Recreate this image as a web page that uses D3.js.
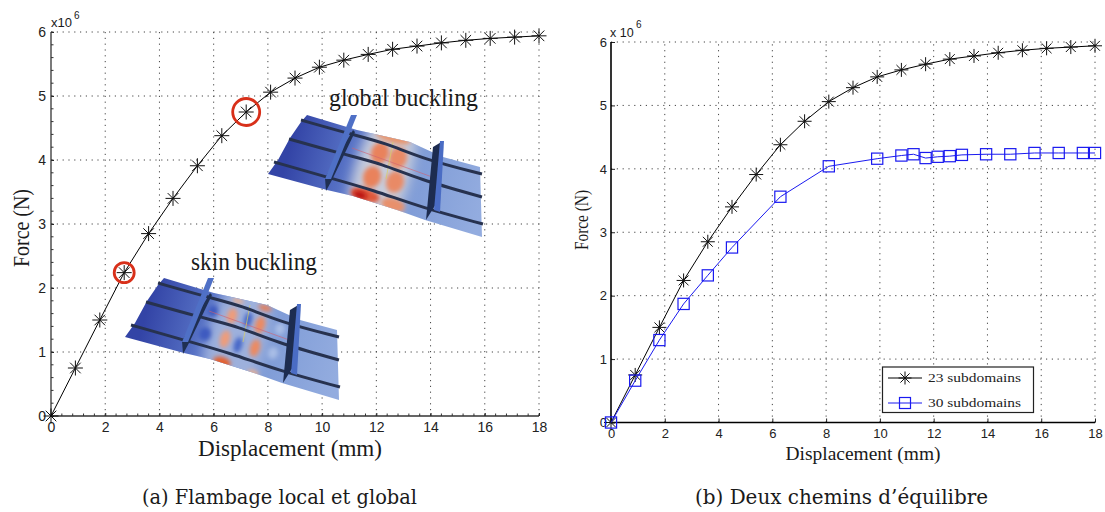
<!DOCTYPE html>
<html><head><meta charset="utf-8">
<script src="https://cdn.jsdelivr.net/npm/d3@7"></script>
<style>body{margin:0;background:#fff}svg{display:block}</style></head>
<body><svg id="c" width="1105" height="512"></svg>
<script>
const xTicks=[0,2,4,6,8,10,12,14,16,18];
const yTicks=[0,1,2,3,4,5,6];
const disp23=[0,0.9,1.8,2.7,3.6,4.5,5.4,6.3,7.2,8.1,9,9.9,10.8,11.7,12.6,13.5,14.4,15.3,16.2,17.1,18];
const force23=[0,0.75,1.5,2.24,2.85,3.4,3.91,4.38,4.75,5.06,5.28,5.45,5.56,5.65,5.73,5.78,5.83,5.87,5.9,5.92,5.94];
const disp30=[0,0.9,1.8,2.7,3.6,4.5,6.3,8.1,9.9,10.8,11.25,11.7,12.15,12.6,13.05,13.95,14.85,15.75,16.65,17.55,18];
const force30=[0,0.66,1.3,1.87,2.32,2.76,3.56,4.04,4.16,4.21,4.23,4.17,4.19,4.2,4.22,4.23,4.23,4.25,4.25,4.25,4.25];
const highlighted=[[2.7,2.24,10],[7.2,4.75,13.5]];
const legendLabels=["23 subdomains","30 subdomains"];
const seriesColors=["#000","#1a1af0"];

const SANS="'Liberation Sans',Arial,sans-serif", SERIF="'Liberation Serif',serif", CAP="'DejaVu Serif',serif";
const svg=d3.select("#c"), defs=svg.append("defs");
const line=(x,y)=>d3.line().x(d=>x(d[0])).y(d=>y(d[1]));

function star(g,cx,cy,r,col,sw){
  const p=g.append("g").attr("stroke",col).attr("stroke-width",sw).attr("transform",`translate(${cx},${cy})`);
  [0,45,90,135].forEach(a=>{const t=a*Math.PI/180;
    p.append("line").attr("x1",-r*Math.cos(t)).attr("y1",-r*Math.sin(t)).attr("x2",r*Math.cos(t)).attr("y2",r*Math.sin(t));});
}
function square(g,cx,cy,r,col){
  g.append("rect").attr("x",cx-r).attr("y",cy-r).attr("width",2*r).attr("height",2*r)
   .attr("fill","none").attr("stroke",col).attr("stroke-width",1.2);
}
function frame(o){
  const g=svg.append("g");
  const x=d3.scaleLinear().domain([0,18]).range(o.xr), y=d3.scaleLinear().domain([0,6]).range(o.yr);
  const dots="1.2 4.6";
  xTicks.slice(1).forEach(t=>g.append("line").attr("x1",x(t)).attr("x2",x(t)).attr("y1",y(0)).attr("y2",y(6))
     .attr("stroke","#444").attr("stroke-width",1).attr("stroke-dasharray",dots));
  yTicks.slice(1).forEach(t=>g.append("line").attr("y1",y(t)).attr("y2",y(t)).attr("x1",x(0)).attr("x2",x(18))
     .attr("stroke","#444").attr("stroke-width",1).attr("stroke-dasharray",dots));
  return {g,x,y};
}
function axes(f,o){
  const {g,x,y}=f;
  const ax=g.append("g").attr("transform",`translate(0,${y(0)})`).call(d3.axisBottom(x).tickValues(xTicks).tickSize(-o.tick).tickPadding(o.padX).tickFormat(d3.format("d")));
  const ay=g.append("g").attr("transform",`translate(${x(0)},0)`).call(d3.axisLeft(y).tickValues(yTicks).tickSize(-o.tick).tickPadding(o.padY).tickFormat(d3.format("d")));
  [ax,ay].forEach(a=>{a.selectAll("text").attr("font-family",SANS).attr("font-size",o.fs).attr("fill","#222");
    a.selectAll("line").attr("stroke","#222");
    a.select(".domain").remove();});
  ax.append("line").attr("x1",x(0)).attr("x2",x(18)).attr("stroke",o.minor?"#333":"#000").attr("stroke-width",o.sw);
  ay.append("line").attr("y1",y(0)).attr("y2",y(6)).attr("stroke",o.minor?"#333":"#000").attr("stroke-width",o.sw);
  if(o.minor){
    d3.range(0,18.01,0.4).forEach(t=>ax.append("line").attr("x1",x(t)).attr("x2",x(t)).attr("y1",0).attr("y2",-2.5).attr("stroke","#333"));
    d3.range(0,6.01,0.2).forEach(t=>ay.append("line").attr("y1",y(t)).attr("y2",y(t)).attr("x1",0).attr("x2",2.5).attr("stroke","#333"));
  }
}
/* ---------- illustration: a curved stiffened panel, drawn in its own local frame ---------- */
const topEdge=[[39,-59],[89,-44],[142,-32],[175,-17],[212,-7]];
const botEdge=[[0,0],[59,16],[85,22],[129,36],[157,46],[214,63]];
const leftEdge=[[0,0],[10,-14],[22,-36],[33,-52],[39,-59]];
const stringers=[
 [[33,-54],[82,-40],[118,-31],[155,-15],[214,0]],
 [[21,-35],[74,-20],[115,-10],[150,5],[214,23]],
 [[6,-12],[62,4],[105,16],[155,34],[215,50]]];
const lg=d3.line().curve(d3.curveBasis);
const lp=d3.line();
const panelPath=lp(topEdge.concat([[214,63]],botEdge.slice().reverse().slice(1),leftEdge.slice(1)))+"Z";
const grad=defs.append("linearGradient").attr("id","pbg").attr("gradientUnits","userSpaceOnUse").attr("x1",20).attr("y1",-20).attr("x2",214).attr("y2",30);
[[0,"#3344a6"],[.3,"#5873c6"],[.6,"#7d9ad6"],[1,"#93acdf"]].forEach(s=>grad.append("stop").attr("offset",s[0]).attr("stop-color",s[1]));
defs.append("filter").attr("id","bl").attr("x","-60%").attr("y","-60%").attr("width","220%").attr("height","220%").append("feGaussianBlur").attr("stdDeviation",6);
defs.append("filter").attr("id","bl2").attr("x","-60%").attr("y","-60%").attr("width","220%").attr("height","220%").append("feGaussianBlur").attr("stdDeviation",2.2);
defs.append("clipPath").attr("id","pclip").append("path").attr("d",panelPath);

const globalBand=[[114,0,28,75,"#c6ccdc"]];
const globalBlobs=[[112,-21,9,11,"#e9825c"],[130,-16,9,11,"#e98a66"],[104,3,9,11,"#e9825c"],[127,8,9,11,"#e98a66"],[125,-37,18,6,"#e8966f"],[97,21,15,7,"#e0583a"],[92,21,7,3.5,"#b81010"],[125,31,12,7,"#e8906c"]];
const skinBand=[[112,2,30,70,"#9db0dc"]];
const skinBlobs=[[88,-26,5,6,"#3d5ac0"],[80,-3,6,7,"#3d5ac0"],[123,-17,4,8,"#4466c8"],[113,8,4,8,"#4466c8"],[155,-8,5,6,"#a9bde6"],[148,16,5,6,"#a9bde6"],
 [107,-21,5,8,"#ee9c7a"],[135,-12,5,9,"#ec8a62"],[100,2,5,9,"#ee9c7a"],[130,11,5,9,"#ec8a62"],[113,-36,6,2.5,"#eeb090"],[140,-29,7,3,"#e87c52"],[97,25,9,5,"#e4602f"],[128,36,6,3,"#eeb090"]];

function panel(tx,ty,band,blobs){
  const g=svg.append("g").attr("transform",`translate(${tx},${ty})`);
  g.append("path").attr("d",panelPath).attr("fill","url(#pbg)");
  const c=g.append("g").attr("clip-path","url(#pclip)");
  const ell=(list,f)=>list.forEach(b=>c.append("ellipse").attr("cx",b[0]).attr("cy",b[1]).attr("rx",b[2]).attr("ry",b[3]).attr("fill",b[4]).attr("filter",f).attr("transform",`rotate(16 ${b[0]} ${b[1]})`));
  ell(band,"url(#bl)"); ell(blobs,"url(#bl2)");
  g.append("path").attr("d",lp([[84,-26],[167,4]])).attr("stroke","#d06070").attr("stroke-width",.6).attr("fill","none");
  g.append("path").attr("d",lp([[125,-32],[118,5]])).attr("stroke","#d8d060").attr("stroke-width",.7).attr("fill","none");
  stringers.forEach(s=>g.append("path").attr("d",lg(s)).attr("fill","none").attr("stroke","#27324f").attr("stroke-width",3));
  g.append("path").attr("d",lp([[85,-44],[87,-42],[64,6],[58,17],[57,4]])+"Z").attr("fill","#1f2f52");
  g.append("path").attr("d",lp([[83,-59],[89,-59],[63,5],[57,5]])+"Z").attr("fill","#4f70c6");
  g.append("path").attr("d",lp([[165,-27],[175,-33],[168,30],[158,46]])+"Z").attr("fill","#1d2c50");
  g.append("path").attr("d",lp([[172,-33],[176,-33],[172,38],[166,36]])+"Z").attr("fill","#4a6cc4");
}
panel(268,174,globalBand,globalBlobs);
panel(125,337,skinBand,skinBlobs);

/* ---------- left chart ---------- */
const L=frame({xr:[51,539],yr:[416,32]});
L.g.lower();
axes(L,{tick:3,padX:6,padY:5,fs:14,sw:1.3,minor:true});
const pts23=disp23.map((d,i)=>[d,force23[i]]), pts30=disp30.map((d,i)=>[d,force30[i]]);
L.g.append("path").datum(pts23).attr("d",line(L.x,L.y)).attr("fill","none").attr("stroke","#000").attr("stroke-width",1);
pts23.forEach(d=>star(L.g,L.x(d[0]),L.y(d[1]),7.5,"#111",1));
svg.append("g").attr("class","rings").selectAll("circle").data(highlighted).join("circle")
  .attr("cx",d=>L.x(d[0])).attr("cy",d=>L.y(d[1])).attr("r",d=>d[2]).attr("fill","none").attr("stroke","#d8301a").attr("stroke-width",2.8);

/* ---------- right chart ---------- */
const R=frame({xr:[611,1095],yr:[422.5,42]});
axes(R,{tick:4,padX:6,padY:4,fs:13,sw:1.6,minor:false});
R.g.append("path").datum(pts23).attr("d",line(R.x,R.y)).attr("fill","none").attr("stroke",seriesColors[0]).attr("stroke-width",1);
pts23.forEach(d=>star(R.g,R.x(d[0]),R.y(d[1]),7,"#111",1));
R.g.append("path").datum(pts30).attr("d",line(R.x,R.y)).attr("fill","none").attr("stroke",seriesColors[1]).attr("stroke-width",1);
pts30.forEach(d=>square(R.g,R.x(d[0]),R.y(d[1]),5.6,seriesColors[1]));

/* legend */
const lgd=svg.append("g");
lgd.append("rect").attr("x",882.5).attr("y",367).attr("width",151).attr("height",45.5).attr("fill","#fff").attr("stroke","#222").attr("stroke-width",1.2);
legendLabels.forEach((t,i)=>{
  const yy=378+i*25;
  lgd.append("line").attr("x1",888).attr("x2",922).attr("y1",yy).attr("y2",yy).attr("stroke",seriesColors[i]).attr("stroke-width",1);
  if(i===0)star(lgd,905,yy,6.5,"#111",1);else square(lgd,905,yy,5.5,seriesColors[1]);
  lgd.append("text").attr("x",928).attr("y",yy+4).attr("font-family",SERIF).attr("font-size",13).attr("fill","#222").attr("textLength",93).attr("lengthAdjust","spacingAndGlyphs").text(t);
});

/* ---------- text ---------- */
function T(x,y,s,fs,fam,opt={}){
  const t=svg.append("text").attr("x",x).attr("y",y).attr("font-family",fam).attr("font-size",fs).attr("fill",opt.fill||"#1a1a1a").attr("text-anchor",opt.anchor||"start").text(s);
  if(opt.rot)t.attr("transform",`rotate(${opt.rot} ${x} ${y})`);
  if(opt.len)t.attr("textLength",opt.len).attr("lengthAdjust","spacingAndGlyphs");
  return t;
}
T(51,27,"x10",13,SANS); T(74,19,"6",10,SANS);
T(610,37,"x 10",12.5,SANS); T(636,28,"6",10,SANS);
T(290,456,"Displacement (mm)",23,SERIF,{anchor:"middle",len:184});
T(863,460,"Displacement (mm)",19,SERIF,{anchor:"middle",len:155});
T(29,228,"Force  (N)",23,SERIF,{anchor:"middle",rot:-90,len:78});
T(588,220,"Force  (N)",18,SERIF,{anchor:"middle",rot:-90,len:60});
T(329,106,"global buckling",25,SERIF,{len:149});
T(191,270,"skin buckling",25,SERIF,{len:126});
T(142,504,"(a)  Flambage local et global",21,CAP,{len:275});
T(695,504,"(b)  Deux chemins d’équilibre",21,CAP,{len:293});
</script></body></html>
